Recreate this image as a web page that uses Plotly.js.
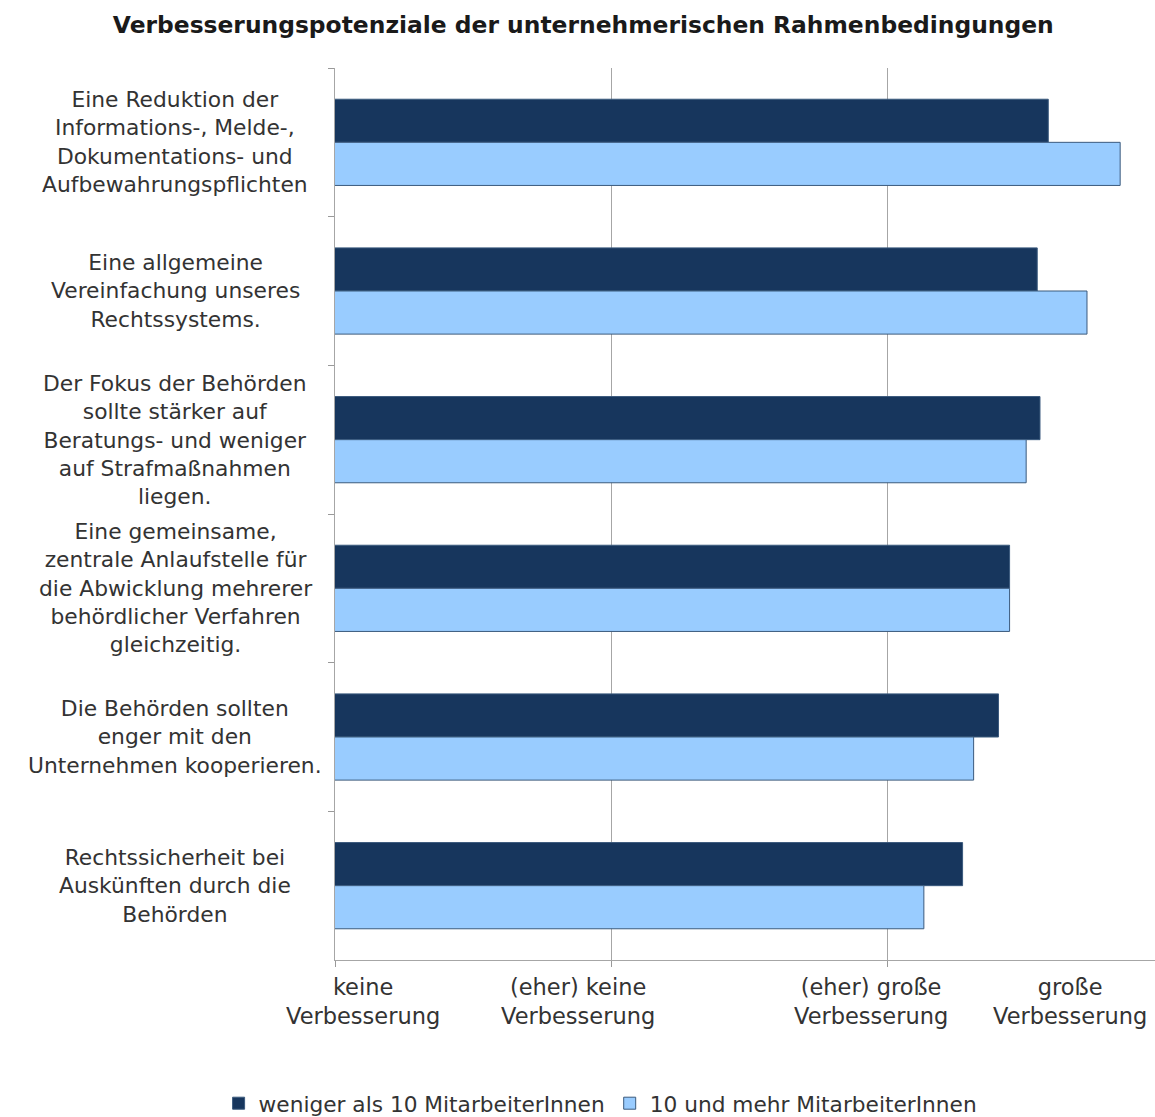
<!DOCTYPE html>
<html>
<head>
<meta charset="utf-8">
<script src="https://cdn.plot.ly/plotly-3.0.1.min.js"></script>
<style>html,body{margin:0;padding:0;background:#fff;}#chart{width:1155px;height:1117px;}</style>
</head>
<body>
<div id="chart"></div>
<script>
const categories = [
  "Eine Reduktion der<br>Informations-, Melde-,<br>Dokumentations- und<br>Aufbewahrungspflichten",
  "Eine allgemeine<br>Vereinfachung unseres<br>Rechtssystems.",
  "Der Fokus der Behörden<br>sollte stärker auf<br>Beratungs- und weniger<br>auf Strafmaßnahmen<br>liegen.",
  "Eine gemeinsame,<br>zentrale Anlaufstelle für<br>die Abwicklung mehrerer<br>behördlicher Verfahren<br>gleichzeitig.",
  "Die Behörden sollten<br>enger mit den<br>Unternehmen kooperieren.",
  "Rechtssicherheit bei<br>Auskünften durch die<br>Behörden"
];
const seriesNames = ["weniger als 10 MitarbeiterInnen", "10 und mehr MitarbeiterInnen"];
const smallFirms = [3.58, 3.54, 3.55, 3.44, 3.40, 3.27];
const largeFirms = [3.84, 3.72, 3.50, 3.44, 3.31, 3.13];
const tickVals = [1, 2, 3, 4];
const tickLabels = ["keine<br>Verbesserung", "(eher) keine<br>Verbesserung", "(eher) große<br>Verbesserung", "große<br>Verbesserung"];
// display positions of the axis labels (as drawn in the original, offset from grid)
const tickLabelPos = [1.10, 1.88, 2.94, 3.66];

const font = "DejaVu Sans, Verdana, sans-serif";
const textColor = "#333333";

const traces = [
  {type: "bar", orientation: "h", name: seriesNames[0], y: categories, x: smallFirms,
   marker: {color: "#17365d", line: {color: "#3b5a7d", width: 1}}, hoverinfo: "x"},
  {type: "bar", orientation: "h", name: seriesNames[1], y: categories, x: largeFirms,
   marker: {color: "#99ccff", line: {color: "#3b5a7d", width: 1}}, hoverinfo: "x"}
];

const annotations = [];
categories.forEach(c => annotations.push({
  xref: "paper", yref: "y", x: -0.195, y: c, text: c, showarrow: false,
  xanchor: "center", yanchor: "middle", align: "center",
  font: {family: font, size: 21.8, color: textColor}
}));
tickLabels.forEach((t, i) => annotations.push({
  xref: "x", yref: "paper", x: tickLabelPos[i], y: -0.013, text: t, showarrow: false,
  xanchor: "center", yanchor: "top", align: "center",
  font: {family: font, size: 22.5, color: textColor}
}));

const layout = {
  width: 1155, height: 1117,
  margin: {l: 335, r: 0, t: 68, b: 157},
  paper_bgcolor: "#ffffff", plot_bgcolor: "#ffffff",
  title: {text: "<b>Verbesserungspotenziale der unternehmerischen Rahmenbedingungen</b>",
          font: {family: font, size: 23.4, color: "#1a1a1a"},
          x: 0.505, xref: "container", xanchor: "center", y: 0.978, yref: "container", yanchor: "middle"},
  barmode: "group",
  bargap: 0.42, bargroupgap: 0,
  xaxis: {range: [1, 3.966], tickvals: tickVals.slice(0, 3), showticklabels: false,
          ticks: "outside", ticklen: 6, tickcolor: "#999999",
          showgrid: true, gridcolor: "#a6a6a6", gridwidth: 1,
          showline: true, linecolor: "#a6a6a6", linewidth: 1, zeroline: false, fixedrange: true},
  yaxis: {autorange: "reversed", showticklabels: false, tickson: "boundaries",
          ticks: "outside", ticklen: 6, tickcolor: "#999999",
          showgrid: false, showline: true, linecolor: "#a6a6a6", linewidth: 1, fixedrange: true},
  legend: {orientation: "h", xref: "container", yref: "container", x: 0.52, y: 0.012,
           xanchor: "center", yanchor: "middle", traceorder: "normal",
           font: {family: font, size: 21.7, color: textColor}, itemwidth: 30},
  annotations: annotations,
  showlegend: true
};

Plotly.newPlot("chart", traces, layout, {displayModeBar: false, staticPlot: true});
</script>
</body>
</html>
